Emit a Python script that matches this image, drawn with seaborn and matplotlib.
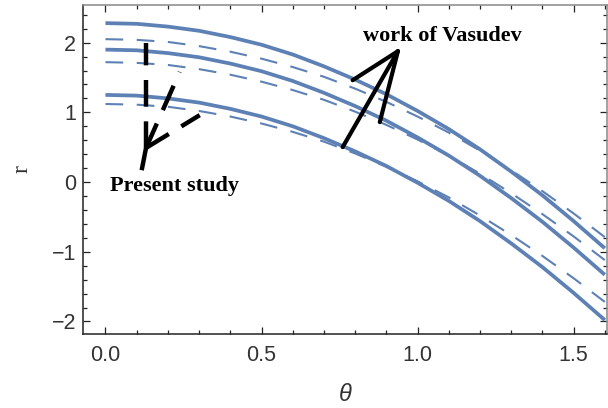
import matplotlib
matplotlib.use("Agg")
import matplotlib.pyplot as plt
from matplotlib.ticker import MultipleLocator
import seaborn as sns
import numpy as np

# ---- data ----
theta = [0.0, 0.1, 0.2, 0.3, 0.4, 0.5, 0.6, 0.7, 0.8, 0.9, 1.0,
         1.1, 1.2, 1.3, 1.4, 1.5, 1.6]

present_top = [2.28, 2.27, 2.23, 2.17, 2.08, 1.97, 1.83, 1.66, 1.47, 1.26, 1.02,
               0.76, 0.47, 0.15, -0.19, -0.56, -0.95]
present_mid = [1.90, 1.89, 1.85, 1.79, 1.70, 1.59, 1.45, 1.28, 1.09, 0.88, 0.64,
               0.38, 0.09, -0.23, -0.57, -0.94, -1.33]
present_bot = [1.25, 1.24, 1.20, 1.14, 1.05, 0.94, 0.80, 0.63, 0.44, 0.23, -0.01,
               -0.27, -0.56, -0.88, -1.22, -1.59, -1.98]

vasudev_top = [2.05, 2.04, 2.01, 1.95, 1.87, 1.77, 1.65, 1.51, 1.34, 1.15, 0.94,
               0.71, 0.45, 0.17, -0.13, -0.45, -0.79]
vasudev_mid = [1.72, 1.71, 1.68, 1.62, 1.54, 1.44, 1.32, 1.18, 1.01, 0.82, 0.61,
               0.38, 0.12, -0.16, -0.46, -0.78, -1.12]
vasudev_bot = [1.12, 1.11, 1.08, 1.02, 0.94, 0.84, 0.72, 0.58, 0.41, 0.22, 0.01,
               -0.22, -0.48, -0.76, -1.06, -1.38, -1.72]

x_ticks = [0.0, 0.5, 1.0, 1.5]
x_tick_labels = ["0.0", "0.5", "1.0", "1.5"]
y_ticks = [-2, -1, 0, 1, 2]
y_tick_labels = ["\u22122", "\u22121", "0", "1", "2"]

# annotation pointer geometry (data coordinates)
present_hub = (0.13, 0.49)
present_tips = [(0.13, 1.99), (0.238, 1.58), (0.302, 0.96)]
present_stem = (0.116, 0.17)
present_text_pos = (0.222, -0.05)

vasudev_apex = (0.937, 1.877)
vasudev_tips = [(0.792, 1.461), (0.760, 0.501), (0.879, 0.860)]
vasudev_text_pos = (1.081, 2.10)

# ---- drawing ----
sns.set_theme(style="ticks")
plt.rcParams["font.family"] = ["Liberation Sans", "DejaVu Sans"]

fig = plt.figure(figsize=(6.08, 4.08), dpi=100)
ax = fig.add_axes([83 / 608, 1 - 334 / 408, (607 - 83) / 608, (334 - 5) / 408])

blue = "#5E81B5"
for series in (vasudev_top, vasudev_mid, vasudev_bot):
    sns.lineplot(x=theta, y=series, ax=ax, color=blue, lw=1.5,
                 linestyle=(0, (8.5, 6.5)), sort=False)
for series in (present_top, present_mid, present_bot):
    sns.lineplot(x=theta, y=series, ax=ax, color=blue, lw=2.7, sort=False,
                 solid_joinstyle="round", solid_capstyle="butt")

# "Present study" pointers (dashed black)
for tip in present_tips:
    ax.plot([present_hub[0], tip[0]], [present_hub[1], tip[1]], color="black",
            lw=3.2, linestyle=(0, (6.0, 3.3)), solid_capstyle="butt",
            dash_capstyle="butt")
ax.plot([present_stem[0], present_hub[0]], [present_stem[1], present_hub[1]],
        color="black", lw=3.2, solid_capstyle="butt")
ax.text(present_text_pos[0], present_text_pos[1], "Present study",
        ha="center", va="center", fontsize=16, fontweight="bold",
        family=["Liberation Serif", "DejaVu Serif"], color="black")

# "work of Vasudev" pointers (solid black)
for tip in vasudev_tips:
    ax.plot([vasudev_apex[0], tip[0]], [vasudev_apex[1], tip[1]], color="black",
            lw=3.0, solid_capstyle="round")
ax.text(vasudev_text_pos[0], vasudev_text_pos[1], "work of Vasudev",
        ha="center", va="center", fontsize=16, fontweight="bold",
        family=["Liberation Serif", "DejaVu Serif"], color="black")

ax.set_xlim(-0.072, 1.607)
ax.set_ylim(-2.18, 2.54)

ax.set_xticks(x_ticks)
ax.set_xticklabels(x_tick_labels)
ax.set_yticks(y_ticks)
ax.set_yticklabels(y_tick_labels)
ax.xaxis.set_minor_locator(MultipleLocator(0.1))
ax.yaxis.set_minor_locator(MultipleLocator(0.2))

ax.tick_params(which="both", direction="in", top=True, right=True,
               colors="#222222", labelcolor="#333333", width=0.9)
ax.tick_params(which="major", length=5, labelsize=15.5)
ax.tick_params(which="minor", length=3)
ax.tick_params(axis="x", which="major", pad=8)
ax.tick_params(axis="y", which="major", pad=5)

for side, sp in ax.spines.items():
    sp.set_visible(True)
    sp.set_linewidth(1.1)
    sp.set_color("#222222" if side in ("left", "bottom") else "#888888")

ax.set_xlabel("\u03b8", fontsize=17, style="italic", color="#333333", labelpad=12)
ax.set_ylabel("r", fontsize=17, family=["Liberation Serif", "DejaVu Serif"],
              color="#333333", labelpad=14)
ax.grid(False)

fig.savefig("out.png", dpi=100)
